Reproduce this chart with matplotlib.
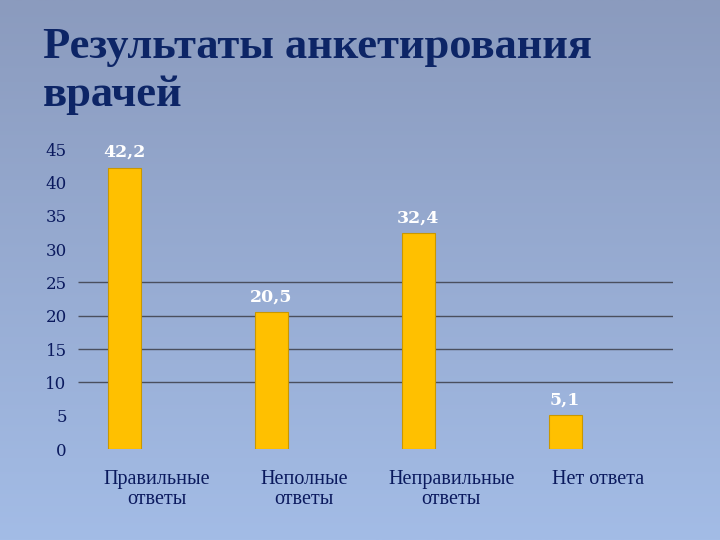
import numpy as np
import matplotlib.pyplot as plt
from matplotlib.colors import LinearSegmentedColormap

# данные
categories = ["Правильные\nответы", "Неполные\nответы", "Неправильные\nответы", "Нет ответа"]
values = [42.2, 20.5, 32.4, 5.1]
value_labels = ["42,2", "20,5", "32,4", "5,1"]
y_ticks = [0, 5, 10, 15, 20, 25, 30, 35, 40, 45]
grid_levels = [10, 15, 20, 25]

plt.rcParams["font.family"] = ["Liberation Serif", "DejaVu Serif"]

navy = "#0b1a5e"

fig = plt.figure(figsize=(7.2, 5.4), dpi=100)

# фон-градиент
bg = fig.add_axes([0, 0, 1, 1], zorder=0)
cmap = LinearSegmentedColormap.from_list("bg", ["#a3bce6", "#8b9bbe"])
grad = np.linspace(0, 1, 256).reshape(-1, 1)
bg.imshow(grad, aspect="auto", cmap=cmap, origin="lower", extent=[0, 1, 0, 1])
bg.set_axis_off()

fig.text(0.06, 0.893, "Результаты анкетирования", fontsize=32, fontweight="bold",
         color="#0d2566", va="baseline", ha="left")
fig.text(0.06, 0.803, "врачей", fontsize=32, fontweight="bold",
         color="#0d2566", va="baseline", ha="left")

ax = fig.add_axes([0.108, 0.1685, 0.827, 0.5555], zorder=1)
ax.patch.set_alpha(0)

x = np.arange(len(categories))
offset = 0.225
width = 0.224

ax.hlines(grid_levels, -0.54, 3.51, colors="#4a4f5e", linewidth=1.0, zorder=1)
bars = ax.bar(x - offset, values, width=width, color="#ffc000",
              edgecolor="#c99700", linewidth=0.8, zorder=2)

for b, lbl in zip(bars, value_labels):
    ax.text(b.get_x() + b.get_width() / 2, b.get_height() + 1.0, lbl,
            ha="center", va="bottom", color="white", fontsize=12.5, fontweight="bold",
            family="DejaVu Serif")

ax.set_xlim(-0.54, 3.51)
ax.set_ylim(0, 45)
ax.set_yticks(y_ticks)
ax.set_yticklabels([str(t) for t in y_ticks], fontsize=12, color=navy, family="DejaVu Serif")
ax.set_xticks(x)
ax.set_xticklabels(categories, fontsize=14.5, color=navy, linespacing=1.05)
ax.tick_params(axis="y", length=0, pad=8)
ax.tick_params(axis="x", length=0, pad=15)
for s in ax.spines.values():
    s.set_visible(False)

fig.savefig("out.png", dpi=100)
